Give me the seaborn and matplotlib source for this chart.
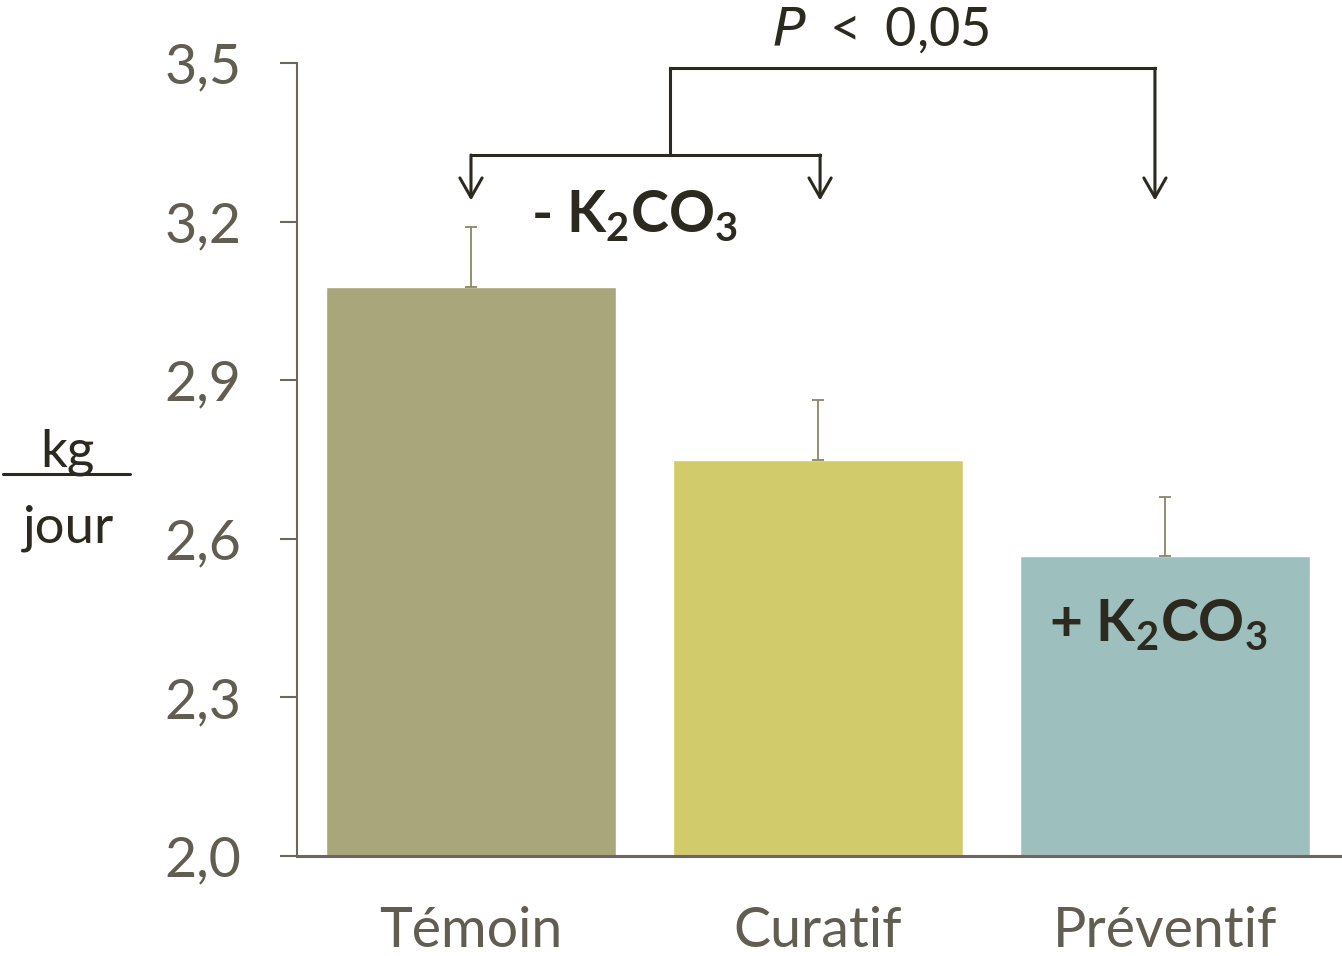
import matplotlib
matplotlib.use("Agg")
import matplotlib.pyplot as plt
import seaborn as sns
import pandas as pd
from matplotlib.lines import Line2D

# values
groupes = ["Témoin", "Curatif", "Préventif"]
moyennes = [3.076, 2.749, 2.567]
erreurs = [0.114, 0.113, 0.112]
couleurs = ["#A9A67C", "#D2CB6C", "#9DBFBD"]
yticks = [2.0, 2.3, 2.6, 2.9, 3.2, 3.5]
ytick_labels = ["2,0", "2,3", "2,6", "2,9", "3,2", "3,5"]

df = pd.DataFrame({"groupe": groupes, "moyenne": moyennes})

sns.set_theme(style="white")
plt.rcParams["font.family"] = ["Lato", "DejaVu Sans"]
plt.rcParams["mathtext.default"] = "regular"

gris = "#615D51"
axe = "#6B675A"
fonce = "#2C2A1F"

fig = plt.figure(figsize=(13.42, 9.56), dpi=100)
ax = fig.add_axes([297 / 1342, 100 / 956, 1043 / 1342, 793 / 956])

sns.barplot(data=df, x="groupe", y="moyenne", hue="groupe", palette=couleurs,
            width=0.836, legend=False, ax=ax, saturation=1)
ax.errorbar(range(len(groupes)), moyennes, yerr=[[0] * 3, erreurs], fmt="none",
            ecolor="#8B8566", elinewidth=1.3, capsize=4.5, capthick=1.3, zorder=1)

ax.set_xlim(-0.5014, 2.5043)
ax.set_ylim(2.0, 3.5)
ax.set_yticks(yticks)
ax.set_yticklabels(ytick_labels)
ax.set_xlabel("")
ax.set_ylabel("")

for s in ["top", "right"]:
    ax.spines[s].set_visible(False)
ax.spines["left"].set_color(axe)
ax.spines["left"].set_linewidth(1.5)
ax.spines["bottom"].set_color(axe)
ax.spines["bottom"].set_linewidth(2.2)
ax.tick_params(axis="y", direction="out", length=12, width=1.5, color=axe,
               labelsize=40, labelcolor=gris, pad=28, left=True)
ax.tick_params(axis="x", length=0, labelsize=40, labelcolor=gris, pad=36)

# brackets and arrows
lk = dict(color=fonce, lw=2.2, clip_on=False, solid_capstyle="projecting")
ax.plot([0.5735, 1.971], [3.490, 3.490], **lk)
ax.plot([0.5735, 0.5735], [3.490, 3.326], **lk)
ax.plot([0.0, 1.006], [3.326, 3.326], **lk)
arrow = dict(arrowstyle="->,head_length=0.7,head_width=0.4", lw=2.2, color=fonce,
             shrinkA=0, shrinkB=0, mutation_scale=20)
for x0, ytop in [(0.0, 3.326), (1.006, 3.326), (1.971, 3.490)]:
    ax.annotate("", xy=(x0, 3.240), xytext=(x0, ytop), arrowprops=arrow,
                annotation_clip=False)

ax.text(1.18, 3.563, "$\\mathit{P}$ $<$ 0,05", ha="center", va="center",
        fontsize=39, color=fonce, clip_on=False)
ax.text(0.47, 3.212, "- K$_2$CO$_3$", ha="center", va="center",
        fontsize=41, fontweight="bold", color=fonce)
ax.text(1.98, 2.437, "+ K$_2$CO$_3$", ha="center", va="center",
        fontsize=41, fontweight="bold", color=fonce)

# y unit as a fraction
fig.text(67 / 1342, 1 - 452 / 956, "kg", ha="center", va="center",
         fontsize=38, color=fonce)
fig.text(68 / 1342, 1 - 528 / 956, "jour", ha="center", va="center",
         fontsize=38, color=fonce)
fig.add_artist(Line2D([3 / 1342, 130 / 1342], [1 - 474 / 956, 1 - 474 / 956],
                      color=fonce, lw=2.2, transform=fig.transFigure))

plt.savefig("out.png", dpi=100)
